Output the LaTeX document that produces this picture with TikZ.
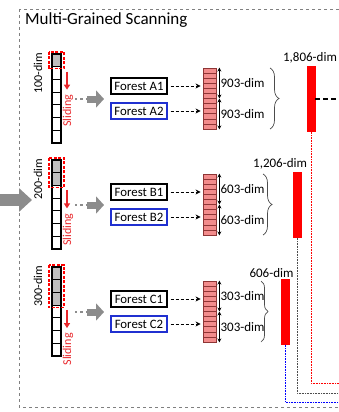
\documentclass[tikz,border=0pt]{standalone}
\usepackage{fontspec}
\setmainfont{Carlito}
\usetikzlibrary{arrows.meta,positioning,decorations.pathreplacing,calc}
\definecolor{slidered}{HTML}{E8262A}
\definecolor{barred}{HTML}{FF0000}
\definecolor{cellpink}{HTML}{F28C8C}
\definecolor{celledge}{HTML}{8E3535}
\definecolor{forestblue}{HTML}{2030D0}
\definecolor{arrowgray}{HTML}{8C8C8C}

\begin{document}
\begin{tikzpicture}[x=1pt,y=-1pt,
  every node/.style={inner sep=0pt},
  vecbox/.style={draw,line width=1.2pt,minimum width=9pt,minimum height=89pt},
  forest/.style={draw,line width=1.1pt,minimum width=56pt,minimum height=16pt,font=\fontsize{12.8}{14}\selectfont},
  pinkcol/.style={draw=celledge,fill=cellpink,line width=0.8pt,minimum width=13pt,minimum height=61pt},
  featbar/.style={draw=barred,fill=barred,minimum width=8pt,minimum height=65pt},
  dimlabel/.style={font=\fontsize{13}{15}\selectfont},
  sidelabel/.style={rotate=90,font=\fontsize{12}{14}\selectfont},
  feed/.style={-{Stealth[length=5pt,width=5pt]},line width=0.9pt,dash pattern=on 3pt off 2pt},
  span/.style={{Stealth[length=4pt,width=4pt]}-{Stealth[length=4pt,width=4pt]},line width=0.9pt},
  block/.style={line width=7pt,arrowgray,-{Triangle[length=8pt,width=17pt]}},
]
  \useasboundingbox (0,0) rectangle (339,412);
  \clip (0,0) rectangle (339,412);

  % Frame and title
  \draw[gray,dashed,line width=0.8pt] (19,9) rectangle (360,407);
  \node[anchor=west,font=\fontsize{17}{19}\selectfont] (title) at (25,20) {Multi-Grained Scanning};

  % Input arrow
  \coordinate (inTail) at (-5,200);
  \coordinate (inTip) at (32,200);
  \draw[line width=12pt,arrowgray,-{Triangle[length=13pt,width=23pt]}] (inTail) -- (inTip);

  % Three scanning rows
  \foreach \n/\yt/\g/\d/\h/\bx/\rx/\am in {A/54/1/100/903/270/311/9,B/160/2/200/603/263/297/9,C/267/3/300/303/261/285.5/7}{
    % window column
    \foreach \i in {0,...,6}{
      \ifnum\i<\g \def\cf{gray!50}\else\def\cf{white}\fi
      \draw[fill=\cf,line width=1.2pt] (52,{\yt+\i*12.7}) rectangle (61,{\yt+(\i+1)*12.7});
    }
    \node[vecbox] (vec\n) at (56.5,\yt+44.5) {};
    \draw[red,dashed,line width=1.1pt,dash pattern=on 3pt off 1.5pt] (49,\yt-2) rectangle (64,{\yt+\g*12.7+2});
    \node[sidelabel] (dim\n) at (38,\yt+19) {\d-dim};

    % sliding
    \coordinate (s\n) at (67,{\yt+\g*12.7+5});
    \draw[slidered,line width=1.3pt,-{Triangle[length=5pt,width=6pt]}] (s\n) -- ++(0,18);
    \node[sidelabel,anchor=east,text=slidered] (sl\n) at (68,{\yt+\g*12.7+28}) {Sliding};

    % to forests
    \coordinate (g\n) at (87,\yt+45);
    \draw[arrowgray,line width=2.4pt,dash pattern=on 2.4pt off 3pt] ([xshift=-12pt]g\n) -- ([xshift=-1pt]g\n);
    \draw[block] (g\n) -- ++(17,0);
    \node[forest] (f\n1) at (139,\yt+32) {Forest \n1};
    \node[forest,draw=forestblue] (f\n2) at (139,\yt+57) {Forest \n2};

    % class vectors
    \node[pinkcol] (p\n) at (209.5,\yt+44.5) {};
    \foreach \j in {1,...,11}
      \draw[celledge,line width=0.6pt] (203,{\yt+14+\j*61/12}) -- (216,{\yt+14+\j*61/12});
    \draw[celledge,line width=1.4pt] (p\n.west) -- (p\n.east);
    \draw[feed,shorten <=3pt,shorten >=2pt] (f\n1.east) -- (f\n1.east -| p\n.west);
    \draw[feed,shorten <=3pt,shorten >=2pt] (f\n2.east) -- (f\n2.east -| p\n.west);
    \draw[span] ([xshift=3pt]p\n.north east) -- ([xshift=3pt]p\n.east);
    \draw[span] ([xshift=3pt]p\n.east) -- ([xshift=3pt]p\n.south east);
    \node[dimlabel,anchor=west] (h\n1) at ($([xshift=4pt]p\n.north east)!0.25!([xshift=4pt]p\n.south east)$) {\h-dim};
    \node[dimlabel,anchor=west] (h\n2) at ($([xshift=4pt]p\n.north east)!0.75!([xshift=4pt]p\n.south east)$) {\h-dim};

    % concatenation
    \draw[gray!60!black,line width=0.7pt,decorate,decoration={brace,amplitude=\am pt}] (\bx,\yt+14) -- (\bx,\yt+75);
    \node[featbar] (bar\n) at (\rx,\yt+45) {};
  }

  % Concatenated lengths
  \node[dimlabel,anchor=south] (lenA) at ([xshift=-1pt,yshift=3pt]barA.north) {1,806-dim};
  \node[dimlabel,anchor=south east] (lenB) at ([xshift=6pt,yshift=3pt]barB.north east) {1,206-dim};
  \node[dimlabel,anchor=south east] (lenC) at ([xshift=4pt,yshift=2pt]barC.north east) {606-dim};

  % Outputs
  \coordinate (outA) at (350,383);
  \coordinate (outB) at (350,393);
  \coordinate (outC) at (350,402);
  \draw[line width=1.6pt,dash pattern=on 5pt off 3pt] (barA.east) -- ++(40,0);
  \draw[red,line width=0.6pt,densely dotted] (barA.south) |- (outA);
  \draw[black!70,line width=0.6pt,densely dotted] (barB.south) |- (outB);
  \draw[blue,line width=0.6pt,densely dotted] (barC.south) |- (outC);
\end{tikzpicture}
\end{document}
